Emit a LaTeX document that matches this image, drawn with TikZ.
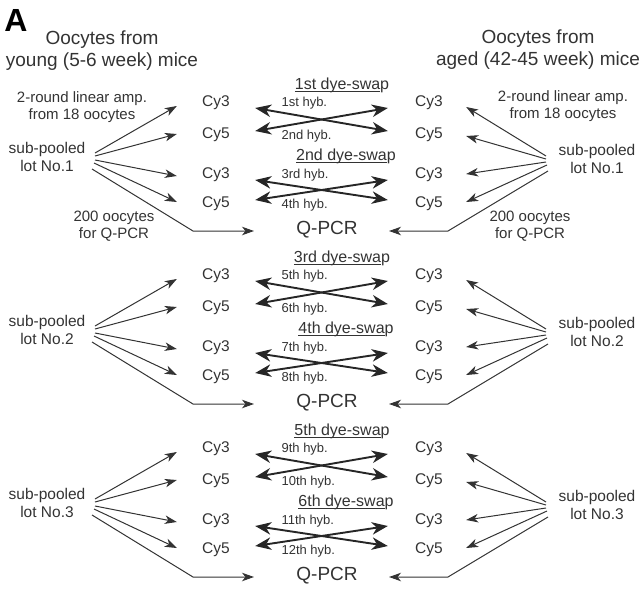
\documentclass[tikz,border=0pt]{standalone}
\usepackage{fontspec}
\setmainfont{Liberation Sans}
\usetikzlibrary{arrows.meta}
\usetikzlibrary{calc}

\begin{document}
\begin{tikzpicture}[x=1pt, y=-1pt, >={Stealth[length=12pt,width=8.5pt,inset=3.5pt]}, thick]
      \tikzstyle{line} = [draw=black!80, line width=1pt, ->]
      \tikzstyle{swap line} = [draw=black!85, line width=1.9pt, <->, >={Stealth[length=16pt,width=12.5pt,inset=5pt]}]
      \tikzstyle{cy node} = [inner sep=0pt, text=black!80, text height=0.72em, text depth=0pt, font=\fontsize{15.5}{18}\selectfont]
      \tikzstyle{note node} = [inner sep=0pt, align=center, text=black!80, font=\fontsize{15}{16.5}\selectfont]
      \tikzstyle{lot node} = [note node, font=\fontsize{15.5}{18}\selectfont]
      \tikzstyle{hyb node} = [cy node, anchor=west, font=\fontsize{13}{15}\selectfont]
      \tikzstyle{swap node} = [cy node, font=\fontsize{16}{18}\selectfont]
      \tikzstyle{pcr node} = [cy node, font=\fontsize{19}{22}\selectfont]
      \tikzstyle{head node} = [note node, font=\fontsize{19}{22}\selectfont]
      \useasboundingbox (0,0) rectangle (643,592);

      %headings
      \node[inner sep=0pt, font=\fontsize{32}{32}\selectfont\bfseries] (panel) at (16,20) {A};
      \node[head node] (young) at (102,51) {Oocytes from\\young (5-6 week) mice};
      \node[head node] (aged) at (538,50) {Oocytes from\\aged (42-45 week) mice};
      \node[note node] (lamp) at (82,107) {2-round linear amp.\\from 18 oocytes};
      \node[note node] (ramp) at (563,106) {2-round linear amp.\\from 18 oocytes};
      \node[note node] (lfor) at (114,226) {200 oocytes\\for Q-PCR};
      \node[note node] (rfor) at (530,226) {200 oocytes\\for Q-PCR};

      \foreach \b/\base/\da/\db/\ha/\hb/\hc/\hd in {1/103/1st/2nd/1st/2nd/3rd/4th,
                                                  2/276/3rd/4th/5th/6th/7th/8th,
                                                  3/449/5th/6th/9th/10th/11th/12th}{
        %nodes
        \node[cy node] (l3a\b) at (216,\base) {Cy3};
        \node[cy node] (l5a\b) at (216,\base+32) {Cy5};
        \node[cy node] (l3b\b) at (216,\base+72) {Cy3};
        \node[cy node] (l5b\b) at (216,\base+101) {Cy5};
        \node[cy node] (r3a\b) at (429,\base) {Cy3};
        \node[cy node] (r5a\b) at (429,\base+32) {Cy5};
        \node[cy node] (r3b\b) at (429,\base+72) {Cy3};
        \node[cy node] (r5b\b) at (429,\base+101) {Cy5};
        \node[pcr node] (pcr\b) at (327,\base+128) {Q-PCR};
        \node[swap node] (swapa\b) at (342,\base-17) {\underline{\smash{\da\ dye-swa}}p};
        \node[swap node] (swapb\b) at (346,\base+54) {\underline{\smash{\db\ dye-swa}}p};
        \node[hyb node] (hyba\b) at ($(l3a\b.east)+(51,0)$) {\ha\ hyb.};
        \node[hyb node] (hybb\b) at ($(l5a\b.east)+(51,1)$) {\hb\ hyb.};
        \node[hyb node] (hybc\b) at ($(l3b\b.east)+(51,0)$) {\hc\ hyb.};
        \node[hyb node] (hybd\b) at ($(l5b\b.east)+(51,1)$) {\hd\ hyb.};
        \node[lot node] (llot\b) at (47,\base+54) {sub-pooled\\lot No.\b};
        \node[lot node] (rlot\b) at (597,\base+56) {sub-pooled\\lot No.\b};
        \coordinate (lfan\b) at (94,\base+52);
        \coordinate (rfan\b) at (546,\base+54);
        \coordinate (lbend\b) at (193,\base+128);
        \coordinate (rbend\b) at (448,\base+128);

        %lines
        \draw[line] ($(lfan\b)+(1,-2)$) -- ($(l3a\b.west)+(-25,3)$);
        \draw[line] ($(lfan\b)+(1,1)$) -- ($(l5a\b.west)+(-25,-1)$);
        \draw[line] ($(lfan\b)+(1,5)$) -- ($(l3b\b.west)+(-25,1)$);
        \draw[line] ($(lfan\b)+(0,8)$) -- ($(l5b\b.west)+(-25,-2)$);
        \draw[line, shorten >=42pt] ($(lfan\b)+(-2,14)$) -- (lbend\b) -- (pcr\b.west);
        \draw[line] ($(rfan\b)+(0,-1)$) -- ($(r3a\b.east)+(23,4)$);
        \draw[line] ($(rfan\b)+(0,2)$) -- ($(r5a\b.east)+(23,1)$);
        \draw[line] ($(rfan\b)+(0,5)$) -- ($(r3b\b.east)+(23,-1)$);
        \draw[line] ($(rfan\b)+(1,8)$) -- ($(r5b\b.east)+(23,-2)$);
        \draw[line, shorten >=31pt] ($(rfan\b)+(2,14)$) -- (rbend\b) -- (pcr\b.east);
        \draw[swap line] ($(l3a\b.east)+(25,5)$) -- ($(r5a\b.west)+(-27,-4)$);
        \draw[swap line] ($(l5a\b.east)+(25,-4)$) -- ($(r3a\b.west)+(-27,5)$);
        \draw[swap line] ($(l3b\b.east)+(25,5)$) -- ($(r5b\b.west)+(-27,-4)$);
        \draw[swap line] ($(l5b\b.east)+(25,-4)$) -- ($(r3b\b.west)+(-27,5)$);
      }
\end{tikzpicture}
\end{document}
